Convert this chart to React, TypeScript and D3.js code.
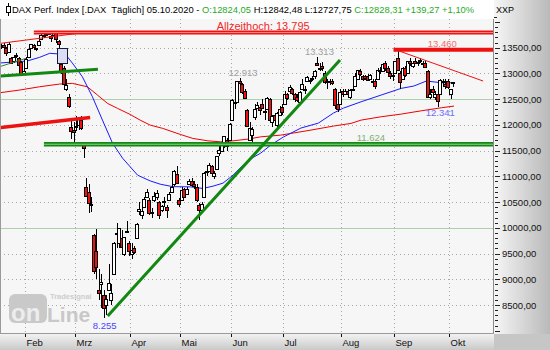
import React from 'react';
import * as d3 from 'd3';

// ---------- data ----------
const dates = [
  '01-20','01-21','01-22','01-23','01-24','01-27','01-28','01-29','01-30','01-31',
  '02-03','02-04','02-05','02-06','02-07','02-10','02-11','02-12','02-13','02-14','02-17','02-18','02-19','02-20','02-21','02-24','02-25','02-26','02-27','02-28',
  '03-02','03-03','03-04','03-05','03-06','03-09','03-10','03-11','03-12','03-13','03-16','03-17','03-18','03-19','03-20','03-23','03-24','03-25','03-26','03-27','03-30','03-31',
  '04-01','04-02','04-03','04-06','04-07','04-08','04-09','04-14','04-15','04-16','04-17','04-20','04-21','04-22','04-23','04-24','04-27','04-28','04-29','04-30',
  '05-04','05-05','05-06','05-07','05-08','05-11','05-12','05-13','05-14','05-15','05-18','05-19','05-20','05-21','05-22','05-25','05-26','05-27','05-28','05-29',
  '06-02','06-03','06-04','06-05','06-08','06-09','06-10','06-11','06-12','06-15','06-16','06-17','06-18','06-19','06-22','06-23','06-24','06-25','06-26','06-29','06-30',
  '07-01','07-02','07-03','07-06','07-07','07-08','07-09','07-10','07-13','07-14','07-15','07-16','07-17','07-20','07-21','07-22','07-23','07-24','07-27','07-28','07-29','07-30','07-31',
  '08-03','08-04','08-05','08-06','08-07','08-10','08-11','08-12','08-13','08-14','08-17','08-18','08-19','08-20','08-21','08-24','08-25','08-26','08-27','08-28','08-31',
  '09-01','09-02','09-03','09-04','09-07','09-08','09-09','09-10','09-11','09-14','09-15','09-16','09-17','09-18','09-21','09-22','09-23','09-24','09-25','09-28','09-29','09-30',
  '10-01','10-02','10-05',
];

const opens = [
  13530,13540,13560,13500,13420,13300,13240,13360,13300,13230,
  13010,13100,13320,13500,13560,13470,13550,13670,13720,13760,13760,13730,13740,13790,13630,13180,13100,12700,12550,11950,
  11900,11950,12000,12100,11600,10800,10700,10460,9860,9550,8800,8900,8700,8500,8800,8600,9100,9900,9700,9800,9500,9930,
  9700,9500,9600,9800,10330,10250,10400,10600,10550,10300,10550,10600,10500,10350,10500,10400,10550,10700,10850,11050,
  10550,10550,10750,10650,10850,10900,10850,10800,10450,10350,10600,11100,11100,11200,11000,11150,11450,11500,11620,11700,
  11700,12100,12450,12450,12850,12800,12650,12280,11700,11800,12150,12320,12350,12400,12250,12300,12500,12050,12200,12000,12200,
  12350,12400,12600,12650,12700,12600,12550,12450,12700,12700,12850,12850,12900,12950,13200,13100,13150,13000,12850,12850,12850,12700,12400,
  12400,12650,12600,12650,12550,12700,12750,12900,13050,12950,12950,12950,12900,12850,12850,12900,13050,13050,13200,13100,13000,
  12950,13000,13300,13000,12900,13100,13000,13250,13150,13250,13200,13250,13200,13200,13050,12550,12700,12550,12600,12600,12850,12800,
  12850,12600,12824.05,
];
const highs = [
  13560,13580,13600,13520,13620,13320,13360,13400,13320,13240,
  13130,13320,13500,13580,13580,13500,13640,13760,13760,13770,13790,13750,13795,13795,13640,13196,13140,12900,12600,12080,
  12060,12170,12150,12170,11640,10960,10860,10600,9880,9980,9200,9100,8800,8700,9300,8900,9720,10100,10000,9950,9830,10130,
  9750,9700,9650,10100,10500,10380,10600,10760,10570,10380,10700,10730,10530,10450,10600,10450,10700,10850,11120,11200,
  10580,10800,10780,10800,10950,10970,10900,10850,10480,10500,11080,11200,11250,11230,11100,11400,11600,11700,11790,11750,
  12030,12500,12500,12850,12913,12820,12700,12300,12050,11950,12400,12450,12400,12500,12300,12550,12530,12200,12230,12250,12370,
  12400,12650,12620,12770,12720,12620,12600,12650,12900,12750,12950,12900,12950,13070,13313,13200,13220,13050,12890,12900,12900,12720,12450,
  12700,12700,12700,12700,12700,12780,13000,13070,13080,12960,12970,12990,12990,12900,12900,13100,13120,13200,13250,13150,13050,
  13050,13250,13460,13050,13120,13150,13250,13300,13230,13300,13270,13300,13250,13250,13060,12700,12750,12650,12650,12900,12900,12900,
  12900,12700,12842.48,
];
const lows = [
  13500,13480,13500,13330,13400,13190,13210,13300,13100,12950,
  12990,13080,13300,13490,13470,13430,13530,13660,13690,13720,13750,13620,13730,13600,13488,12990,12760,12650,12330,11720,
  11630,11890,11900,11900,11350,10600,10280,10300,9100,9000,8600,8450,8255,8300,8800,8500,9100,9600,9600,9600,9450,9900,
  9450,9400,9500,9780,10250,10170,10380,10590,10250,10200,10500,10550,10180,10300,10400,10200,10520,10680,10820,10850,
  10400,10540,10580,10650,10830,10800,10750,10500,10150,10300,10590,11000,11080,11000,10950,11150,11400,11480,11550,11500,
  11690,12080,12300,12440,12750,12600,12500,11950,11700,11600,12100,12300,12200,12300,12100,12280,12050,11960,12050,11900,12200,
  12200,12380,12480,12600,12580,12450,12450,12430,12690,12600,12830,12800,12850,12900,13150,13050,13050,12800,12700,12780,12780,12300,12250,
  12380,12550,12580,12550,12500,12650,12740,12880,12950,12850,12880,12850,12880,12750,12700,12890,12990,13020,13050,12950,12900,
  12850,12990,13050,12700,12880,12930,12990,13150,13100,13180,13150,13200,13100,13100,12530,12500,12600,12480,12341,12590,12800,12700,
  12700,12500,12727.75,
];
const closes = [
  13548,13555,13515,13388,13577,13204,13324,13345,13158,12982,
  13046,13282,13478,13575,13514,13494,13627,13749,13745,13744,13784,13681,13789,13664,13579,13035,12790,12775,12368,11890,
  11857,11986,12128,11944,11542,10625,10475,10439,9162,9232,8742,8939,8442,8610,8929,8742,9701,9874,10000,9633,9815,9936,
  9544,9571,9525,10075,10357,10333,10565,10697,10280,10301,10626,10676,10250,10416,10514,10337,10659,10796,11107,10862,
  10467,10730,10606,10760,10905,10825,10820,10542,10338,10465,11058,11075,11223,11066,11074,11392,11505,11657,11781,11587,
  12021,12487,12431,12848,12820,12642,12530,11970,11949,11911,12316,12382,12281,12331,12263,12524,12093,12178,12089,12232,12311,
  12260,12608,12528,12733,12616,12495,12489,12633,12799,12697,12930,12874,12920,13046,13171,13104,13103,12838,12838,12836,12822,12379,12313,
  12647,12601,12660,12592,12674,12687,12947,13058,12994,12901,12920,12881,12977,12830,12765,13067,13062,13190,13096,13033,12945,
  12974,13243,13057,12842,13100,12968,13237,13209,13202,13194,13218,13256,13208,13116,12542,12595,12643,12606,12469,12871,12826,12761,
  12730,12689.04,12828.31,
];

const monthLabels = ['Feb', 'Mrz', 'Apr', 'Mai', 'Jun', 'Jul', 'Aug', 'Sep', 'Okt'];
const monthStarts = ['02-03', '03-02', '04-01', '05-04', '06-02', '07-01', '08-03', '09-01', '10-01'];
const priceTicks = [8500, 9000, 9500, 10000, 10500, 11000, 11500, 12000, 12500, 13000, 13500];
const solidGridLevels = [10000, 12500];

// moving averages (trading-day index, value)
const blueMaIdx = [0, 11, 16, 20, 24, 27, 29, 33, 37, 41, 45, 49, 55, 60, 64, 69, 76, 81, 85, 89, 93, 97, 101, 104, 108, 113, 120, 127, 133, 137, 144, 152, 160, 165, 170, 176, 181];
const blueMaVal = [13202, 13241, 13313, 13391, 13377, 13325, 13202, 12936, 12547, 12093, 11646, 11354, 11023, 10912, 10848, 10800, 10796, 10765, 10809, 10868, 11023, 11218, 11368, 11451, 11607, 11763, 11938, 12035, 12230, 12327, 12449, 12580, 12710, 12755, 12852, 12819, 12819];
const redMaIdx = [0, 8, 16, 24, 29, 35, 39, 43, 47, 52, 56, 60, 65, 72, 77, 83, 88, 93, 99, 104, 112, 124, 133, 140, 144, 152, 160, 168, 176, 181];
const redMaVal = [12624, 12677, 12741, 12794, 12807, 12741, 12580, 12418, 12321, 12204, 12093, 11996, 11932, 11815, 11737, 11690, 11671, 11690, 11724, 11768, 11801, 11899, 11977, 12029, 12093, 12158, 12210, 12274, 12333, 12366];

// drawn trend / support lines: [startIdx, startVal, endIdx, endVal]
const redThickLines = [
  [13.7, 13795, 230, 13795],
  [156.9, 13460, 230, 13460],
  [0, 11947, 36.1, 12142],
];
const redThinLines = [
  [0, 13582, 36.9, 13815],
  [158.9, 13440, 192.6, 12852],
];
const greenThickLines = [
  [0, 12949, 39.2, 13080],
  [17.7, 11624, 230, 11624],
  [43.1, 8286, 135.6, 13261],
];
const greenThinLines = [[0, 13130, 10.6, 13294]];
const gapBox = [23, 13488, 27, 13196];

// annotations: [text, idx, value, dy, colour, size]
const annotations: [string, number, number, number, string, number][] = [
  ['Allzeithoch: 13.795', 105, 13795, -3, '#f02828', 11],
  ['12.913', 97, 12913, -2, '#a0a0a0', 9.5],
  ['13.313', 127.4, 13313, -2, '#a0a0a0', 9.5],
  ['13.460', 176.3, 13460, -2.5, '#f27070', 9.5],
  ['12.341', 175.5, 12341, 9, '#6b6bff', 9.5],
  ['8.255', 41.9, 8255, 11, '#4646ff', 9.5],
  ['11.624', 147.9, 11624, -3, '#7fae77', 9.5],
];

// ---------- layout ----------
const W = 550, H = 350;
const PL = 0, PR = 493, PT = 19, PB = 333;
const FONT = "'Liberation Sans', Arial, sans-serif";

const x = d3.scaleLinear().domain([10, 179]).range([24.6, 449]);
const y = d3.scaleLinear().domain([8500, 13500]).range([305, 47.7]);

const fmtDe = (v: number) => d3.format('.2f')(v).replace('.', ',');

export default function App() {
  const n = dates.length;
  const lineGen = d3.line<[number, number]>().x(d => x(d[0])).y(d => y(d[1]));
  const blue = lineGen(blueMaIdx.map((d, i) => [d, blueMaVal[i]]));
  const red = lineGen(redMaIdx.map((d, i) => [d, redMaVal[i]]));

  const last = n - 1;
  const chg = closes[last] - closes[last - 1];
  const pct = (chg / closes[last - 1]) * 100;
  const [mm, dd] = dates[last].split('-');

  const minorTicks = d3.range(8000, 14001, 100);

  const candles = dates.map((_, i) => {
    const cx = Math.round(x(i));
    const yo = y(opens[i]), yc = y(closes[i]);
    const top = Math.round(Math.min(yo, yc));
    const bot = Math.round(Math.max(yo, yc));
    const up = closes[i] >= opens[i];
    return (
      <g key={i}>
        <line x1={cx - 0.5} x2={cx - 0.5} y1={Math.round(y(highs[i]))} y2={Math.round(y(lows[i]))} stroke="#000" strokeWidth={1} />
        <rect x={cx - 2.5} y={top + 0.5} width={3} height={Math.max(bot - top, 1)} fill={up ? '#ffffff' : '#ee1111'} stroke="#000" strokeWidth={1} />
      </g>
    );
  });

  const seg = (l: number[], k: string, color: string, w: number, inner?: string) => (
    <g key={k}>
      <line x1={x(l[0])} y1={y(l[1])} x2={x(l[2])} y2={y(l[3])} stroke={color} strokeWidth={w} />
      {inner && <line x1={x(l[0])} y1={y(l[1])} x2={x(l[2])} y2={y(l[3])} stroke={inner} strokeWidth={1} />}
    </g>
  );

  return (
    <svg width={W} height={H} style={{ position: 'absolute', left: 0, top: 0, display: 'block' }} fontFamily={FONT}>
      <defs>
        <linearGradient id="gRight" x1="0" x2="1" y1="0" y2="0">
          <stop offset="0" stopColor="#f6f6f6" />
          <stop offset="1" stopColor="#b9b9b9" />
        </linearGradient>
        <linearGradient id="gBottom" x1="0" x2="0" y1="0" y2="1">
          <stop offset="0" stopColor="#f2f2f2" />
          <stop offset="1" stopColor="#c9c9c9" />
        </linearGradient>
        <clipPath id="plotClip">
          <rect x={PL + 1} y={PT} width={PR - PL - 1} height={PB - PT} />
        </clipPath>
      </defs>

      {/* backgrounds */}
      <rect x={0} y={0} width={W} height={H} fill="#ffffff" />
      <rect x={PL} y={PT} width={PR - PL} height={PB - PT} fill="#f6f6f6" />
      <rect x={PR + 1} y={0} width={W - PR - 1} height={PB + 1} fill="url(#gRight)" />
      <rect x={0} y={PB + 1} width={PR + 1} height={H - PB - 1} fill="url(#gBottom)" />
      <rect x={PR + 1} y={PB + 1} width={W - PR - 1} height={H - PB - 1} fill="#c6c6c6" />

      {/* header */}
      <line x1={8.5} x2={8.5} y1={3} y2={16} stroke="#000" />
      <rect x={6.5} y={6.5} width={4} height={6} fill="#fff" stroke="#000" />
      <text x={12} y={13} fontSize={9.4} style={{ whiteSpace: 'pre' }}>
        <tspan fill="#000">{`DAX Perf. Index [.DAX  Täglich] ${dd}.${mm}.2020 - `}</tspan>
        <tspan fill="#1faa1f">{`O:${fmtDe(opens[last])}`}</tspan>
        <tspan fill="#000">{` H:${fmtDe(highs[last])} L:${fmtDe(lows[last])} `}</tspan>
        <tspan fill="#1faa1f">{`C:${fmtDe(closes[last])} ${chg >= 0 ? '+' : ''}${fmtDe(chg)} ${pct >= 0 ? '+' : ''}${fmtDe(pct)}%`}</tspan>
      </text>
      <text x={496} y={13} fontSize={9} fill="#000">XXP</text>
      <line x1={494} x2={497} y1={17.5} y2={17.5} stroke="#222" />

      <g clipPath="url(#plotClip)">
        {/* grid */}
        {priceTicks.filter(v => !solidGridLevels.includes(v)).map(v => (
          <line key={'g' + v} x1={PL} x2={PR} y1={Math.round(y(v)) + 0.5} y2={Math.round(y(v)) + 0.5} stroke="#a8a8a8" strokeDasharray="1,3" />
        ))}
        {solidGridLevels.map(v => (
          <line key={'s' + v} x1={PL} x2={PR} y1={Math.round(y(v)) + 0.5} y2={Math.round(y(v)) + 0.5} stroke="#acd0a8" />
        ))}
        {monthStarts.map(d => {
          const xx = Math.round(x(dates.indexOf(d))) + 0.5;
          return <line key={'v' + d} x1={xx} x2={xx} y1={PT} y2={PB} stroke="#a8a8a8" strokeDasharray="1,3" />;
        })}

        {/* watermark */}
        <g>
          <rect x={9} y={294} width={38} height={29} rx={6} fill="#c9c9c9" />
          <text x={11} y={321} fontSize={24} fontWeight="bold" fill="#ededed">on</text>
          <text x={47} y={322} fontSize={21} fontWeight="bold" fill="#c8c8c8">Line</text>
          <text x={50} y={299} fontSize={7.5} fontWeight="bold" fill="#cdcdcd">Tradesignal</text>
        </g>

        {/* moving averages */}
        <path d={red ?? ''} fill="none" stroke="#ee0000" strokeWidth={1} />
        <path d={blue ?? ''} fill="none" stroke="#1a1aff" strokeWidth={1} />

        {/* candles */}
        {candles}

        {/* gap box */}
        <rect x={Math.round(x(gapBox[0])) + 0.5} y={Math.round(y(gapBox[1])) + 0.5}
          width={Math.round(x(gapBox[2]) - x(gapBox[0]))} height={Math.round(y(gapBox[3]) - y(gapBox[1]))}
          fill="#dcdcf4" stroke="#1a1a3a" />

        {/* drawn lines */}
        {greenThinLines.map((l, i) => seg(l, 'gt' + i, '#2a8a2a', 1))}
        {redThinLines.map((l, i) => seg(l, 'rt' + i, '#ee1111', 1))}
        {redThickLines.map((l, i) => seg(l, 'rk' + i, '#ee1111', i === 2 ? 3.5 : 4, i === 0 ? '#f88' : undefined))}
        {greenThickLines.map((l, i) => seg(l, 'gk' + i, '#118811', i === 1 ? 4.5 : 3, i === 1 ? '#8fd08f' : undefined))}

        {/* annotations */}
        {annotations.map(([t, i, v, dy, col, fs]) => (
          <text key={t} x={x(i)} y={y(v) + dy} fontSize={fs} fill={col} textAnchor="middle">{t}</text>
        ))}
      </g>

      {/* frame */}
      <line x1={0.5} x2={0.5} y1={PT} y2={PB + 1} stroke="#9a9a9a" />
      <line x1={PR + 0.5} x2={PR + 0.5} y1={PT} y2={PB + 1} stroke="#8a8a8a" />
      <line x1={0} x2={PR + 1} y1={PB + 0.5} y2={PB + 0.5} stroke="#9a9a9a" />

      {/* right axis */}
      {minorTicks.filter(v => y(v) > PT + 1 && y(v) < PB).map(v => {
        const yy = Math.round(y(v)) + 0.5;
        const major = v % 500 === 0;
        return <line key={'t' + v} x1={495} x2={major ? 500 : 498} y1={yy} y2={yy} stroke="#222" />;
      })}
      {priceTicks.map(v => (
        <text key={'l' + v} x={502} y={y(v) + 3.5} fontSize={9.5} fill="#111">{`${v},00`}</text>
      ))}

      {/* bottom axis */}
      {monthStarts.map((d, k) => {
        const xx = Math.round(x(dates.indexOf(d))) + 0.5;
        return (
          <g key={'m' + d}>
            <line x1={xx} x2={xx} y1={PB + 1} y2={PB + 4} stroke="#111" />
            <text x={xx + 1} y={346} fontSize={9.5} fill="#111">{monthLabels[k]}</text>
          </g>
        );
      })}
    </svg>
  );
}
